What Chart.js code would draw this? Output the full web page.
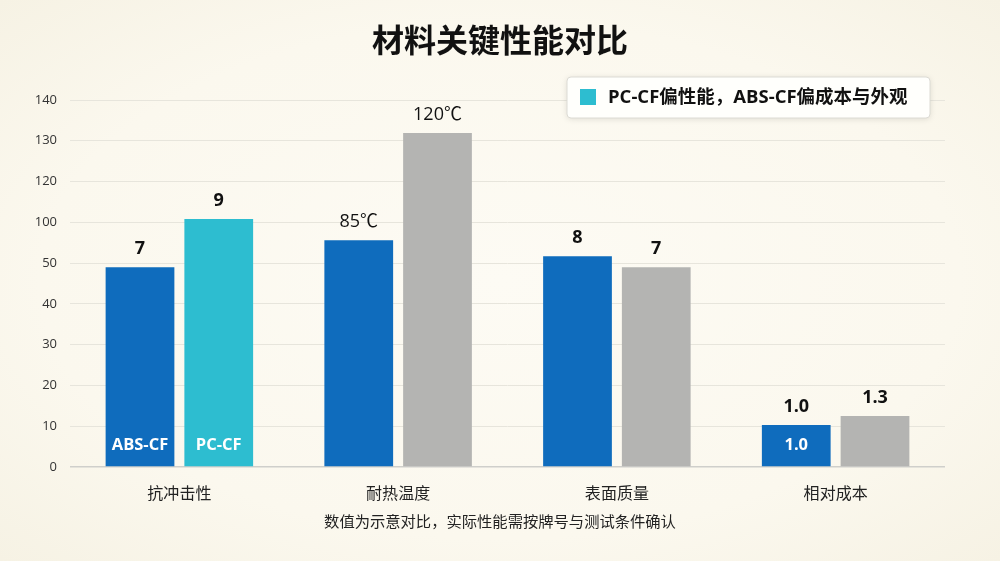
<!DOCTYPE html>
<html>
<head>
<meta charset="utf-8">
<title>材料关键性能对比</title>
<script src="https://cdn.jsdelivr.net/npm/chart.js"></script>
<style>
  html, body { margin: 0; padding: 0; }
  body { width: 1000px; height: 561px; background: radial-gradient(ellipse at center, #fdfbf4 0%, #fbf8ee 65%, #f6f2e4 100%); }
  #wrap { width: 1000px; height: 561px; position: relative; }
</style>
</head>
<body>
<div id="wrap"><canvas id="myChart"></canvas></div>
<script>
// categories and series
var categories = ["抗冲击性", "耐热温度", "表面质量", "相对成本"];
var seriesNames = ["ABS-CF", "PC-CF"];
// bar heights as drawn, in grid steps of the (evenly spaced) y axis
var absValues = [49, 55.6, 51.7, 10.3];
var pcValues = [60.8, 81.9, 49, 12.5];
// printed labels
var absLabels = ["7", "85℃", "8", "1.0"];
var pcLabels = ["9", "120℃", "7", "1.3"];
var absInner = ["ABS-CF", "", "", "1.0"];
var pcInner = ["PC-CF", "", "", ""];
var yTickLabels = ["0", "10", "20", "30", "40", "50", "100", "120", "130", "140"];
var titleText = "材料关键性能对比";
var legendText = "PC-CF偏性能，ABS-CF偏成本与外观";
var footnote = "数值为示意对比，实际性能需按牌号与测试条件确认";

var absColor = "#0f6cbd";
var pcColors = ["#2dbdd0", "#b4b4b2", "#b4b4b2", "#b4b4b2"];
var FONT = "'Open Sans', 'Noto Sans CJK SC', sans-serif";

var labelPlugin = {
    id: "barLabels",
    afterDatasetsDraw: function(chart) {
        var ctx = chart.ctx;
        ctx.save();
        ctx.textAlign = "center";
        ctx.textBaseline = "middle";
        [absLabels, pcLabels].forEach(function(labels, di) {
            var inner = di === 0 ? absInner : pcInner;
            chart.getDatasetMeta(di).data.forEach(function(bar, i) {
                var txt = labels[i];
                var bold = txt.indexOf("℃") < 0;
                ctx.fillStyle = "#111";
                ctx.font = (bold ? "bold " : "") + "18px " + FONT;
                ctx.fillText(txt, bar.x, bar.y - 18);
                if (inner[i]) {
                    ctx.fillStyle = "#ffffff";
                    ctx.font = "bold 16.5px " + FONT;
                    ctx.fillText(inner[i], bar.x, bar.base - 21);
                }
            });
        });
        ctx.restore();
    },
    afterDraw: function(chart) {
        var ctx = chart.ctx;
        ctx.save();
        // title and footnote, centred on the page
        ctx.textAlign = "center";
        ctx.textBaseline = "middle";
        ctx.fillStyle = "#111";
        ctx.font = "bold 32px " + FONT;
        ctx.fillText(titleText, 500, 43);
        ctx.fillStyle = "#222";
        ctx.font = "15.3px " + FONT;
        ctx.fillText(footnote, 500, 523);

        // legend box
        var x = 567, y = 77, w = 363, h = 41;
        ctx.shadowColor = "rgba(0,0,0,0.12)";
        ctx.shadowBlur = 6;
        ctx.shadowOffsetY = 1;
        ctx.fillStyle = "#fffffc";
        ctx.beginPath();
        ctx.roundRect(x, y, w, h, 4);
        ctx.fill();
        ctx.shadowColor = "transparent";
        ctx.strokeStyle = "#dcdbd4";
        ctx.lineWidth = 1;
        ctx.stroke();
        ctx.fillStyle = pcColors[0];
        ctx.fillRect(x + 13, y + 12, 16, 16);
        ctx.fillStyle = "#111";
        ctx.font = "bold 18.5px " + FONT;
        ctx.textAlign = "left";
        ctx.fillText(legendText, x + 41, y + 21);
        ctx.restore();
    }
};

var ctx = document.getElementById("myChart").getContext("2d");
new Chart(ctx, {
    type: "bar",
    data: {
        labels: categories,
        datasets: [
            { label: seriesNames[0], data: absValues, backgroundColor: absColor },
            { label: seriesNames[1], data: pcValues, backgroundColor: pcColors }
        ]
    },
    options: {
        responsive: true,
        maintainAspectRatio: false,
        animation: false,
        datasets: { bar: { barPercentage: 0.873, categoryPercentage: 0.72 } },
        layout: { padding: { left: 0, right: 55, top: 100, bottom: 0 } },
        plugins: {
            legend: { display: false },
            tooltip: { enabled: false },
            title: { display: false }
        },
        scales: {
            x: {
                grid: { display: false },
                border: { display: false },
                ticks: { color: "#222", font: { family: FONT, size: 16 }, padding: 10 },
                afterFit: function(scale) { scale.height = 94; }
            },
            y: {
                min: 0,
                max: 90,
                border: { display: false },
                grid: {
                    drawTicks: false,
                    color: function(c) { return c.tick && c.tick.value === 0 ? "#cfcfcb" : "#e7e5dc"; },
                    lineWidth: function(c) { return c.tick && c.tick.value === 0 ? 1.5 : 1; }
                },
                ticks: {
                    stepSize: 10,
                    padding: 13,
                    color: "#333",
                    font: { family: FONT, size: 13 },
                    callback: function(v) { return yTickLabels[Math.round(v / 10)]; }
                },
                afterFit: function(scale) { scale.width = 70; }
            }
        }
    },
    plugins: [labelPlugin]
});
</script>
</body>
</html>
